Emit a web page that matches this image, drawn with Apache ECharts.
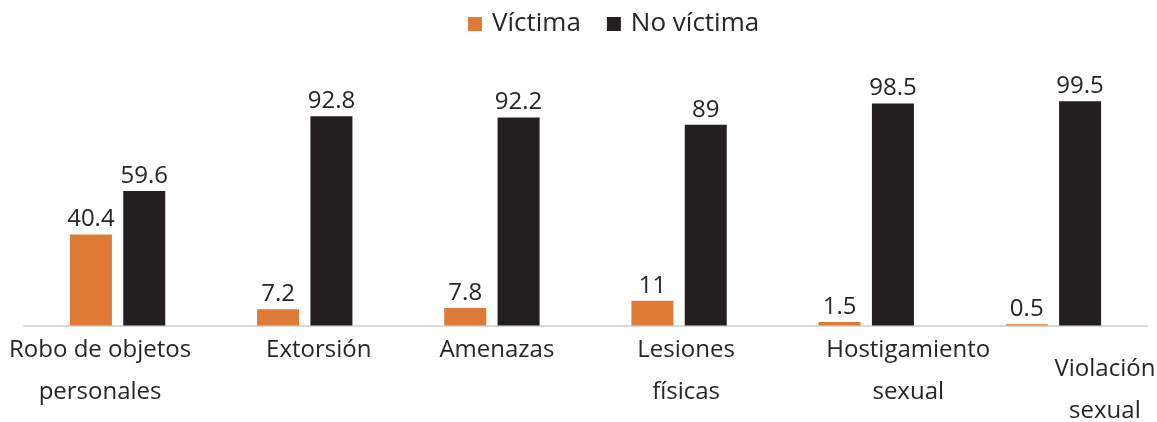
<!DOCTYPE html>
<html>
<head>
<meta charset="utf-8">
<script src="https://cdn.jsdelivr.net/npm/echarts@6/dist/echarts.min.js"></script>
<style>
html,body{margin:0;padding:0;background:#fff;}
#chart{width:1157px;height:422px;}
</style>
</head>
<body>
<div id="chart"></div>
<script>
const categories = ['Robo de objetos\npersonales', 'Extorsión', 'Amenazas', 'Lesiones\nfísicas', 'Hostigamiento\nsexual', 'Violación\nsexual'];
const victima = [40.4, 7.2, 7.8, 11, 1.5, 0.5];
const noVictima = [59.6, 92.8, 92.2, 89, 98.5, 99.5];
const seriesNames = ['Víctima', 'No víctima'];

// label nudges (styling only): [top, right, bottom, left] padding per category
const labelPad = [[0,35,0,0],[0,0,0,28],[0,0,0,10],[0,0,0,14],[0,0,0,84],[19,0,0,103]];

const FONT = 'Open Sans';
const chart = echarts.init(document.getElementById('chart'), null, {renderer:'canvas'});
const labelStyle = {
  show: true, position: 'top', distance: 3,
  fontFamily: FONT, fontSize: 24, color: '#262626'
};
chart.setOption({
  animation: false,
  legend: {
    top: 6, left: 463,
    icon: 'rect', itemWidth: 14, itemHeight: 14, itemGap: 26,
    textStyle: {fontFamily: FONT, fontSize: 26, color: '#262626', padding: [0,0,0,5]},
    data: seriesNames
  },
  grid: {left: 24, right: 10, top: 100, bottom: 96.5, containLabel: false, outerBoundsMode: 'none'},
  xAxis: {
    type: 'category',
    data: categories.map((c, i) => ({value: c, textStyle: {padding: labelPad[i]}})),
    axisLine: {lineStyle: {color: '#D9D9D9', width: 2}},
    axisTick: {show: false},
    axisLabel: {interval: 0, margin: 4, fontFamily: FONT, fontSize: 24, lineHeight: 42, color: '#262626'}
  },
  yAxis: {type: 'value', min: 0, max: 100, show: false, splitLine: {show: false}},
  series: [
    {name: seriesNames[0], type: 'bar', data: victima, barWidth: 42, barGap: '27%',
     itemStyle: {color: '#DE7B36'}, label: labelStyle},
    {name: seriesNames[1], type: 'bar', data: noVictima, barWidth: 42,
     itemStyle: {color: '#231F20'}, label: labelStyle}
  ]
});
</script>
</body>
</html>
